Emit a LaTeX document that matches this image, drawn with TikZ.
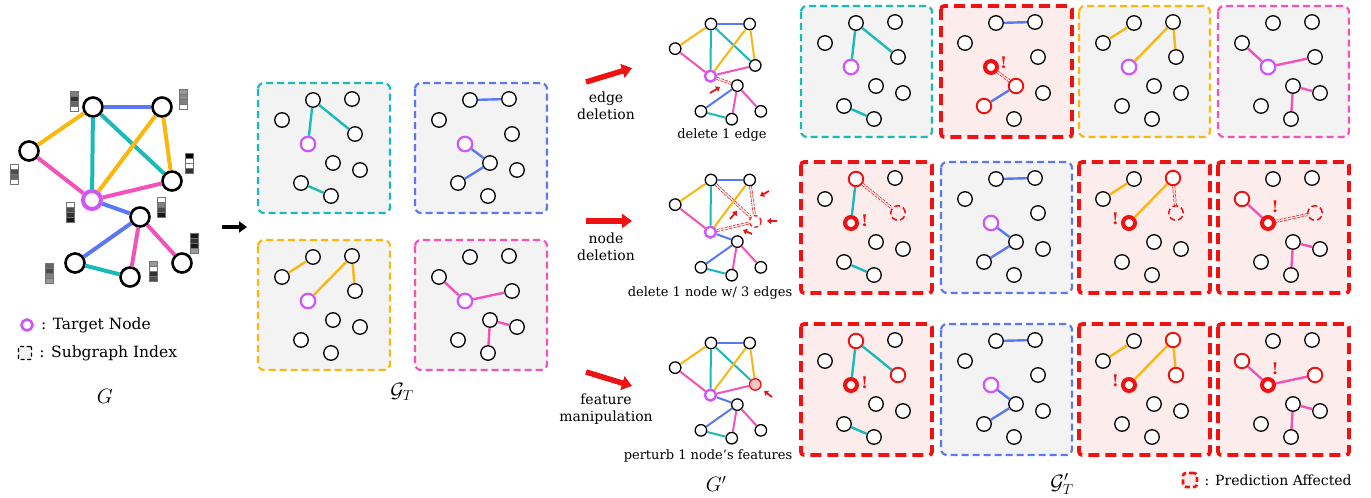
\documentclass[tikz,border=0pt]{standalone}
\usepackage{fontspec}
\setmainfont{DejaVu Serif}
\usepackage{tikz}
\usetikzlibrary{arrows.meta,positioning}

\definecolor{tealc}{RGB}{26,186,186}
\definecolor{bluec}{RGB}{90,120,242}
\definecolor{goldc}{RGB}{250,184,14}
\definecolor{pinkc}{RGB}{242,82,186}
\definecolor{tpurple}{RGB}{206,86,250}
\definecolor{hitred}{RGB}{238,18,18}
\definecolor{panelgray}{RGB}{243,243,243}
\definecolor{panelred}{RGB}{253,236,236}

\tikzstyle{vtx} = [draw, circle, fill=white, line width=1.3pt, minimum size=14.5pt, inner sep=0pt]
\tikzstyle{target} = [vtx, draw=tpurple, line width=2.2pt]
\tikzstyle{redvtx} = [vtx, draw=hitred, line width=1.9pt]
\tikzstyle{hitvtx} = [vtx, draw=hitred, line width=4pt, minimum size=12pt]
\tikzstyle{gonevtx} = [vtx, draw=hitred, fill=none, line width=1.5pt, dash pattern=on 6pt off 3pt]
\tikzstyle{edgew} = [line width=2.4pt]
\tikzstyle{tealedge} = [draw=tealc, edgew]
\tikzstyle{blueedge} = [draw=bluec, edgew]
\tikzstyle{goldedge} = [draw=goldc, edgew]
\tikzstyle{pinkedge} = [draw=pinkc, edgew]
\tikzstyle{gone} = [draw=hitred, line width=0.7pt, double=white, double distance=1.4pt, dash pattern=on 3pt off 1.2pt]
\tikzstyle{subbox} = [fill=panelgray, line width=2.2pt, dash pattern=on 7pt off 4pt, rounded corners=6pt]
\tikzstyle{hitbox} = [draw=hitred, fill=panelred, line width=3.6pt, dash pattern=on 11pt off 6pt, rounded corners=3pt]
\tikzstyle{bang} = [text=hitred, font=\bfseries\fontsize{16}{16}\selectfont, inner sep=0pt]
\tikzstyle{pointer} = [draw=hitred, line width=1.8pt, -{Triangle[length=4pt,width=6pt]}]
\tikzstyle{bigarrow} = [draw=hitred, line width=5.5pt, -{Triangle[length=10pt,width=14pt]}]
\tikzstyle{capt} = [font=\fontsize{13}{15}\selectfont, inner sep=0pt]
\tikzstyle{legtext} = [font=\fontsize{15.5}{17}\selectfont, inner sep=0pt]
\tikzstyle{oplabel} = [font=\fontsize{14}{17}\selectfont, align=center, inner sep=0pt]
\tikzstyle{mathlabel} = [font=\fontsize{20}{20}\selectfont, inner sep=0pt]
\tikzstyle{cell} = [draw=black!55, line width=0.5pt]

\tikzset{
  slota/.style={vtx}, slotb/.style={vtx}, slotc/.style={vtx}, slotd/.style={vtx},
  slott/.style={target}, slote/.style={vtx}, slotf/.style={vtx}, slotg/.style={vtx},
  sloth/.style={vtx}, gslot4/.style={vtx},
  e12/.style={blueedge}, e13/.style={goldedge}, e1t/.style={tealedge}, e14/.style={tealedge},
  e2t/.style={goldedge}, e24/.style={goldedge}, e3t/.style={pinkedge}, et4/.style={pinkedge},
  et5/.style={blueedge}, e56/.style={blueedge}, e57/.style={pinkedge}, e58/.style={pinkedge},
  e67/.style={tealedge}
}

\newcommand{\fullgraph}[1]{%
  \node[vtx] (#1n1) at (0,0) {};
  \node[vtx] (#1n2) at (69,0) {};
  \node[vtx] (#1n3) at (-64,44) {};
  \node[gslot4] (#1n4) at (79,74) {};
  \node[target] (#1t) at (-1,93) {};
  \node[vtx] (#1n5) at (47,110) {};
  \node[vtx] (#1n6) at (-18,156) {};
  \node[vtx] (#1n7) at (37,170) {};
  \node[vtx] (#1n8) at (89,156) {};
  \draw[e12] (#1n1) -- (#1n2);
  \draw[e13] (#1n1) -- (#1n3);
  \draw[e1t] (#1n1) -- (#1t);
  \draw[e14] (#1n1) -- (#1n4);
  \draw[e2t] (#1n2) -- (#1t);
  \draw[e24] (#1n2) -- (#1n4);
  \draw[e3t] (#1n3) -- (#1t);
  \draw[et4] (#1t) -- (#1n4);
  \draw[et5] (#1t) -- (#1n5);
  \draw[e56] (#1n5) -- (#1n6);
  \draw[e57] (#1n5) -- (#1n7);
  \draw[e58] (#1n5) -- (#1n8);
  \draw[e67] (#1n6) -- (#1n7);
}

\newcommand{\subgraphnodes}[1]{%
  \node[slota] (#1a) at (55,17) {};
  \node[slotb] (#1b) at (94,16) {};
  \node[slotc] (#1c) at (24,37) {};
  \node[slotd] (#1d) at (97,51) {};
  \node[slott] (#1t) at (50,61) {};
  \node[slote] (#1e) at (75,80) {};
  \node[slotf] (#1f) at (102,87) {};
  \node[slotg] (#1g) at (43,100) {};
  \node[sloth] (#1h) at (73,113) {};
}

\newcommand{\featbar}[6]{%
  \foreach \s [count=\k from 0] in {#3,#4,#5,#6}
    \draw[cell, fill=black!\s] (#1-4,#2-10+5*\k) rectangle ++(8,5);
}

\begin{document}
\begin{tikzpicture}[x=1pt, y=-1pt]
\path[use as bounding box, fill=white] (0,0) rectangle (1371,498);

\begin{scope}[shift={(93,107)}, vtx/.append style={minimum size=19pt, line width=2.6pt},
    target/.append style={minimum size=18pt, line width=4pt}, edgew/.style={line width=4pt}]
  \fullgraph{g}
\end{scope}
\featbar{74}{101}{50}{80}{60}{0}
\featbar{183}{99}{40}{45}{50}{0}
\featbar{14}{174}{0}{70}{60}{0}
\featbar{189}{163}{100}{0}{0}{80}
\featbar{70}{212}{0}{70}{80}{90}
\featbar{161}{207}{0}{50}{70}{90}
\featbar{194}{243}{90}{80}{90}{40}
\featbar{49}{273}{60}{70}{50}{40}
\featbar{153}{271}{40}{0}{80}{70}

\node[target, minimum size=11pt, line width=2.6pt] (lgtgt) at (27,325) {};
\node[legtext, right=7pt of lgtgt] (lgtgttxt) {: Target Node};
\node[draw, fill=panelgray, dash pattern=on 4pt off 2.5pt, line width=1.4pt, minimum size=13pt,
    inner sep=0pt, rounded corners=1pt] (lgbox) at (25,353) {};
\node[legtext, right=7pt of lgbox] (lgboxtxt) {: Subgraph Index};
\node[mathlabel] (lblG) at (105,396) {$G$};

\coordinate (gout) at (222,227);
\coordinate (gtin) at (247,227);
\draw[line width=4pt, -{Triangle[length=8pt,width=11pt]}] (gout) -- (gtin);

\begin{scope}[shift={(258,83)}]
  \draw[subbox, draw=tealc] (0,0) rectangle (132,130);
  \subgraphnodes{ta}
  \draw[tealedge] (taa) -- (tat);
  \draw[tealedge] (taa) -- (tad);
  \draw[tealedge] (tag) -- (tah);
\end{scope}
\begin{scope}[shift={(415,83)}]
  \draw[subbox, draw=bluec] (0,0) rectangle (132,130);
  \subgraphnodes{tb}
  \draw[blueedge] (tba) -- (tbb);
  \draw[blueedge] (tbt) -- (tbe);
  \draw[blueedge] (tbe) -- (tbg);
\end{scope}
\begin{scope}[shift={(258,240)}]
  \draw[subbox, draw=goldc] (0,0) rectangle (132,130);
  \subgraphnodes{tc}
  \draw[goldedge] (tcc) -- (tca);
  \draw[goldedge] (tct) -- (tcb);
  \draw[goldedge] (tcb) -- (tcd);
\end{scope}
\begin{scope}[shift={(415,240)}]
  \draw[subbox, draw=pinkc] (0,0) rectangle (132,130);
  \subgraphnodes{td}
  \draw[pinkedge] (tdc) -- (tdt);
  \draw[pinkedge] (tdt) -- (tdd);
  \draw[pinkedge] (tde) -- (tdf);
  \draw[pinkedge] (tde) -- (tdh);
\end{scope}
\node[mathlabel] (lblGT) at (402,392) {$\mathcal{G}_T$};

\coordinate (op1s) at (586,82);
\coordinate (op1e) at (632,68);
\draw[bigarrow] (op1s) -- (op1e);
\node[oplabel] (op1) at (606,106) {edge\\deletion};
\coordinate (op2s) at (586,221);
\coordinate (op2e) at (632,221);
\draw[bigarrow] (op2s) -- (op2e);
\node[oplabel] (op2) at (606,247) {node\\deletion};
\coordinate (op3s) at (586,372);
\coordinate (op3e) at (632,386);
\draw[bigarrow] (op3s) -- (op3e);
\node[oplabel] (op3) at (606,409) {feature\\manipulation};

\begin{scope}[shift={(711,24)}, scale=0.56, vtx/.append style={minimum size=11.5pt, line width=1.3pt},
    target/.append style={minimum size=11pt, line width=2.4pt}, edgew/.style={line width=2pt},
    et5/.style={gone}]
  \fullgraph{da}
\end{scope}
\coordinate (pa0) at (710,93);
\coordinate (pa1) at (720,87);
\draw[pointer] (pa0) -- (pa1);
\node[capt] (cap1) at (722,135) {delete 1 edge};

\begin{scope}[shift={(711,180)}, scale=0.56, vtx/.append style={minimum size=11.5pt, line width=1.3pt},
    target/.append style={minimum size=11pt, line width=2.4pt}, edgew/.style={line width=2pt},
    gslot4/.style={gonevtx, line width=1.2pt, dash pattern=on 4pt off 2.5pt},
    e14/.style={gone}, e24/.style={gone}, et4/.style={gone}]
  \fullgraph{db}
\end{scope}
\coordinate (pb0) at (769,191);
\coordinate (pb1) at (760,196);
\draw[pointer] (pb0) -- (pb1);
\coordinate (pc0) at (730,219);
\coordinate (pc1) at (737,211);
\draw[pointer] (pc0) -- (pc1);
\coordinate (pd0) at (777,221);
\coordinate (pd1) at (767,221);
\draw[pointer] (pd0) -- (pd1);
\coordinate (pe0) at (752,234);
\coordinate (pe1) at (743,230);
\draw[pointer] (pe0) -- (pe1);
\node[capt] (cap2) at (710,293) {delete 1 node w/ 3 edges};

\begin{scope}[shift={(711,343)}, scale=0.56, vtx/.append style={minimum size=11.5pt, line width=1.3pt},
    target/.append style={minimum size=11pt, line width=2.4pt}, edgew/.style={line width=2pt},
    gslot4/.style={vtx, draw=hitred, fill=hitred!25}]
  \fullgraph{dc}
\end{scope}
\coordinate (pf0) at (772,397);
\coordinate (pf1) at (764,391);
\draw[pointer] (pf0) -- (pf1);
\node[capt] (cap3) at (708,456) {perturb 1 node's features};
\node[mathlabel] (lblGp) at (716,484) {$G'$};

\begin{scope}[shift={(801,6)}]
  \draw[subbox, draw=tealc] (0,0) rectangle (131,131);
  \subgraphnodes{r11}
  \draw[tealedge] (r11a) -- (r11t);
  \draw[tealedge] (r11a) -- (r11d);
  \draw[tealedge] (r11g) -- (r11h);
\end{scope}
\begin{scope}[shift={(941,6)}, slott/.style={hitvtx}, slote/.style={redvtx}, slotg/.style={redvtx}]
  \draw[hitbox] (0,0) rectangle (131,131);
  \subgraphnodes{r12}
  \draw[blueedge] (r12a) -- (r12b);
  \draw[gone] (r12t) -- (r12e);
  \draw[blueedge] (r12e) -- (r12g);
  \node[bang, right=1pt of r12t, yshift=4pt] (r12x) {!};
\end{scope}
\begin{scope}[shift={(1079,6)}]
  \draw[subbox, draw=goldc] (0,0) rectangle (131,131);
  \subgraphnodes{r13}
  \draw[goldedge] (r13c) -- (r13a);
  \draw[goldedge] (r13t) -- (r13b);
  \draw[goldedge] (r13b) -- (r13d);
\end{scope}
\begin{scope}[shift={(1218,6)}]
  \draw[subbox, draw=pinkc] (0,0) rectangle (131,131);
  \subgraphnodes{r14}
  \draw[pinkedge] (r14c) -- (r14t);
  \draw[pinkedge] (r14t) -- (r14d);
  \draw[pinkedge] (r14e) -- (r14f);
  \draw[pinkedge] (r14e) -- (r14h);
\end{scope}

\begin{scope}[shift={(801,162)}, slota/.style={redvtx}, slotd/.style={gonevtx}, slott/.style={hitvtx}]
  \draw[hitbox] (0,0) rectangle (131,131);
  \subgraphnodes{r21}
  \draw[tealedge] (r21a) -- (r21t);
  \draw[gone] (r21a) -- (r21d);
  \draw[tealedge] (r21g) -- (r21h);
  \node[bang, right=2pt of r21t, yshift=2pt] (r21x) {!};
\end{scope}
\begin{scope}[shift={(941,162)}]
  \draw[subbox, draw=bluec] (0,0) rectangle (131,131);
  \subgraphnodes{r22}
  \draw[blueedge] (r22a) -- (r22b);
  \draw[blueedge] (r22t) -- (r22e);
  \draw[blueedge] (r22e) -- (r22g);
\end{scope}
\begin{scope}[shift={(1079,162)}, slotb/.style={redvtx}, slotd/.style={gonevtx}, slott/.style={hitvtx}]
  \draw[hitbox] (0,0) rectangle (131,131);
  \subgraphnodes{r23}
  \draw[goldedge] (r23c) -- (r23a);
  \draw[goldedge] (r23t) -- (r23b);
  \draw[gone] (r23b) -- (r23d);
  \node[bang, left=2pt of r23t, yshift=4pt] (r23x) {!};
\end{scope}
\begin{scope}[shift={(1218,162)}, slotc/.style={redvtx}, slotd/.style={gonevtx}, slott/.style={hitvtx}]
  \draw[hitbox] (0,0) rectangle (131,131);
  \subgraphnodes{r24}
  \draw[pinkedge] (r24c) -- (r24t);
  \draw[gone] (r24t) -- (r24d);
  \draw[pinkedge] (r24e) -- (r24f);
  \draw[pinkedge] (r24e) -- (r24h);
  \node[bang, above=2pt of r24t, xshift=7pt] (r24x) {!};
\end{scope}

\begin{scope}[shift={(801,324)}, slota/.style={redvtx}, slotd/.style={redvtx}, slott/.style={hitvtx}]
  \draw[hitbox] (0,0) rectangle (131,131);
  \subgraphnodes{r31}
  \draw[tealedge] (r31a) -- (r31t);
  \draw[tealedge] (r31a) -- (r31d);
  \draw[tealedge] (r31g) -- (r31h);
  \node[bang, right=2pt of r31t, yshift=2pt] (r31x) {!};
\end{scope}
\begin{scope}[shift={(941,324)}]
  \draw[subbox, draw=bluec] (0,0) rectangle (131,131);
  \subgraphnodes{r32}
  \draw[blueedge] (r32a) -- (r32b);
  \draw[blueedge] (r32t) -- (r32e);
  \draw[blueedge] (r32e) -- (r32g);
\end{scope}
\begin{scope}[shift={(1079,324)}, slotb/.style={redvtx}, slotd/.style={redvtx}, slott/.style={hitvtx}]
  \draw[hitbox] (0,0) rectangle (131,131);
  \subgraphnodes{r33}
  \draw[goldedge] (r33c) -- (r33a);
  \draw[goldedge] (r33t) -- (r33b);
  \draw[goldedge] (r33b) -- (r33d);
  \node[bang, left=2pt of r33t, yshift=4pt] (r33x) {!};
\end{scope}
\begin{scope}[shift={(1218,324)}, slotc/.style={redvtx}, slotd/.style={redvtx}, slott/.style={hitvtx}]
  \draw[hitbox] (0,0) rectangle (131,131);
  \subgraphnodes{r34}
  \draw[pinkedge] (r34c) -- (r34t);
  \draw[pinkedge] (r34t) -- (r34d);
  \draw[pinkedge] (r34e) -- (r34f);
  \draw[pinkedge] (r34e) -- (r34h);
  \node[bang, above=2pt of r34t, xshift=7pt] (r34x) {!};
\end{scope}

\node[mathlabel] (lblGpT) at (1062,484) {$\mathcal{G}^{\prime}_{T}$};
\node[hitbox, minimum size=14pt, inner sep=0pt, line width=2.6pt, dash pattern=on 5pt off 3pt] (lghit) at (1190,480) {};
\node[capt, font=\fontsize{14}{16}\selectfont, right=6pt of lghit] (lghittxt) {: Prediction Affected};
\end{tikzpicture}
\end{document}
